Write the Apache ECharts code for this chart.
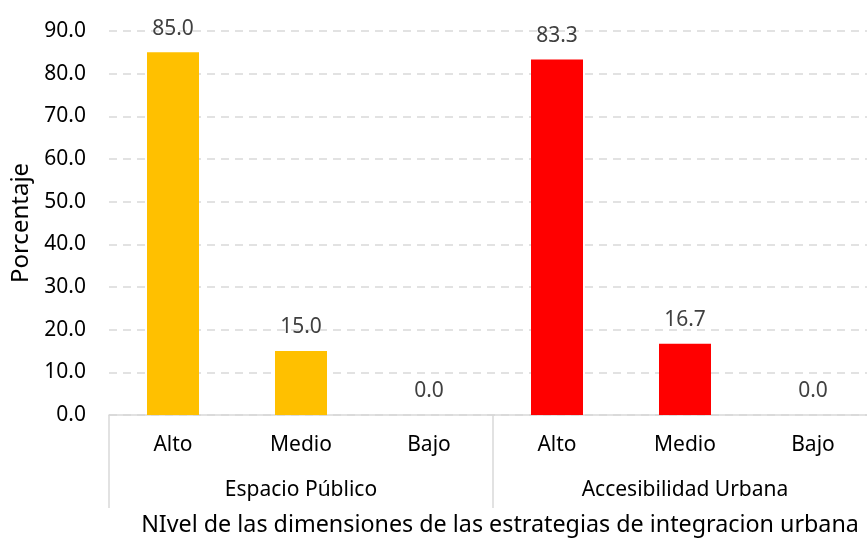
<!DOCTYPE html>
<html><head><meta charset="utf-8">
<script src="https://cdn.jsdelivr.net/npm/echarts@6/dist/echarts.min.js"></script>
<style>html,body{margin:0;padding:0;background:#fff}#c{width:867px;height:540px}</style>
</head><body><div id="c"></div>
<script>
const categories = ['Alto','Medio','Bajo','Alto','Medio','Bajo'];
const groups = ['Espacio Público','Accesibilidad Urbana'];
const espacioPublico = [85.0, 15.0, 0.0];
const accesibilidadUrbana = [83.3, 16.7, 0.0];
const yTicks = [0,10,20,30,40,50,60,70,80,90];
const yName = 'Porcentaje';
const xName = 'NIvel de las dimensiones de las estrategias de integracion urbana';

const FONT = '"Noto Sans", "Open Sans", sans-serif';
const s1 = espacioPublico.concat(['-','-','-']);
const s2 = ['-','-','-'].concat(accesibilidadUrbana);
const lbl = {show:true, position:'top', distance:13, color:'#404040', fontSize:21, fontFamily:FONT, formatter:p=>Number(p.value).toFixed(1)};
const chart = echarts.init(document.getElementById('c'));
chart.setOption({
  animation:false,
  grid:{left:109, top:31, width:768, height:384, outerBoundsMode:'none', containLabel:false},
  xAxis:[
    {type:'category', data:categories, position:'bottom',
     axisLine:{show:true, lineStyle:{color:'#d9d9d9', width:1.5}},
     axisTick:{show:false},
     axisLabel:{color:'#000', fontSize:21, fontFamily:FONT, margin:20}},
    {type:'category', data:groups, position:'bottom',
     axisLine:{show:false},
     axisTick:{show:true, length:93, lineStyle:{color:'#d9d9d9', width:1.5}},
     axisLabel:{color:'#000', fontSize:21, fontFamily:FONT, margin:65},
     name:xName, nameLocation:'middle', nameGap:99,
     nameTextStyle:{color:'#000', fontSize:23.3, fontFamily:FONT, padding:[0,0,0,14]}}
  ],
  yAxis:{type:'value', min:0, max:90, interval:10,
    axisLine:{show:false}, axisTick:{show:false},
    axisLabel:{color:'#000', fontSize:21, fontFamily:FONT, margin:23, formatter:v=>v.toFixed(1)},
    splitLine:{lineStyle:{color:'#d9d9d9', type:[8,6], width:1.5}},
    name:yName, nameLocation:'middle', nameGap:75,
    nameTextStyle:{color:'#000', fontSize:24, fontFamily:FONT}},
  series:[
    {type:'bar', xAxisIndex:0, data:s1, barWidth:52, barGap:'-100%', itemStyle:{color:'#FFC000'}, label:lbl},
    {type:'bar', xAxisIndex:0, data:s2, barWidth:52, barGap:'-100%', itemStyle:{color:'#FF0000'}, label:lbl}
  ]
});
</script></body></html>
